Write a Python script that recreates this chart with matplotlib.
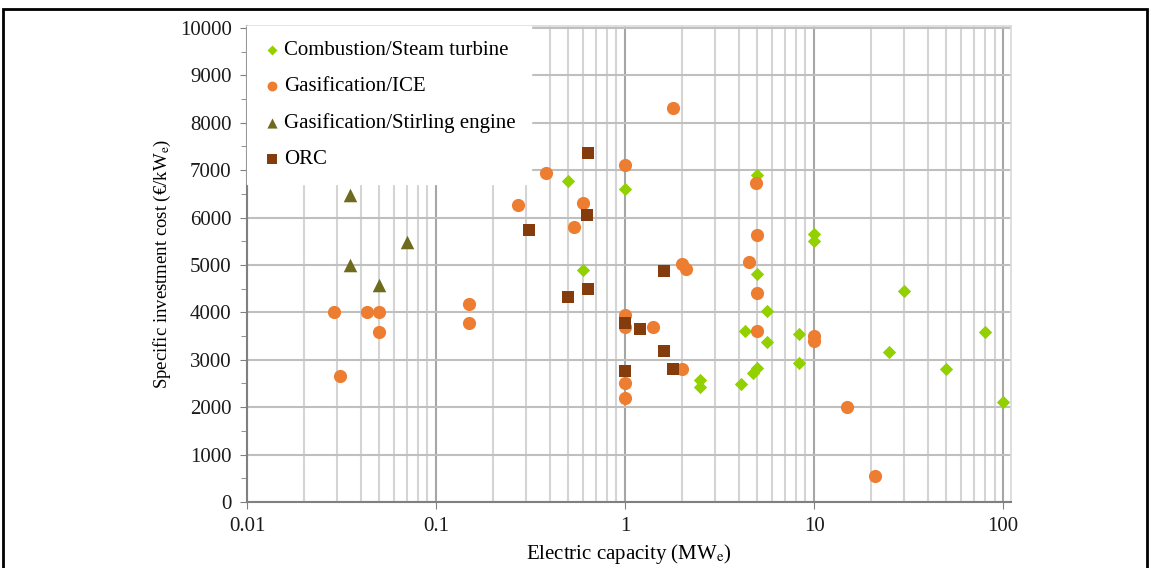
import matplotlib
matplotlib.use("Agg")
import matplotlib.pyplot as plt
from matplotlib.patches import Rectangle
from matplotlib.ticker import LogLocator, FixedLocator, MultipleLocator, FuncFormatter

plt.rcParams['font.family'] = ['Liberation Serif', 'DejaVu Serif']
plt.rcParams['mathtext.fontset'] = 'stix'

# Combustion/Steam turbine
comb_x = [0.5, 1, 0.6, 5, 10, 10, 5, 4.3, 5.6, 5.6, 5, 4.75, 4.1, 2.5, 2.5,
          8.3, 8.3, 30, 25, 50, 80, 100]
comb_y = [6770, 6600, 4900, 6900, 5650, 5500, 4800, 3600, 4030, 3380, 2830,
          2720, 2490, 2570, 2430, 3550, 2930, 4450, 3160, 2800, 3590, 2110]

# Gasification/ICE
ice_x = [0.029, 0.031, 0.043, 0.05, 0.05, 0.15, 0.15, 0.27, 0.38, 0.6, 0.54,
         1, 1, 1, 1, 1, 1.4, 2, 1.8, 2, 2.1, 4.9, 5, 4.5, 5, 5, 10, 10, 15, 21]
ice_y = [4000, 2660, 4000, 4000, 3590, 4180, 3780, 6270, 6940, 6300, 5790,
         7110, 3950, 3700, 2500, 2200, 3700, 2800, 8310, 5020, 4920, 6730,
         5630, 5060, 4410, 3610, 3500, 3400, 2000, 550]

# Gasification/Stirling engine
stir_x = [0.035, 0.035, 0.05, 0.07]
stir_y = [6470, 5000, 4570, 5480]

# ORC
orc_x = [0.31, 0.5, 0.64, 0.63, 0.64, 1, 1.2, 1.6, 1.6, 1.8, 1]
orc_y = [5740, 4320, 7370, 6060, 4490, 3770, 3650, 4880, 3190, 2800, 2760]

fig = plt.figure(figsize=(11.51, 5.68), dpi=100)
ax = fig.add_axes([247 / 1151, 66 / 568, 764 / 1151, 476 / 568])

ax.scatter(comb_x, comb_y, marker='D', s=46, color='#92d000', linewidths=0,
           label='Combustion/Steam turbine', zorder=3)
ax.scatter(ice_x, ice_y, marker='o', s=90, color='#ed7d31', linewidths=0,
           label='Gasification/ICE', zorder=3)
ax.scatter(stir_x, stir_y, marker='^', s=95, color='#6e6b1e', linewidths=0,
           label='Gasification/Stirling engine', zorder=3)
ax.scatter(orc_x, orc_y, marker='s', s=78, color='#843c0c', linewidths=0,
           label='ORC', zorder=3)

ax.set_xscale('log')
ax.set_xlim(0.01, 110)
ax.set_ylim(0, 10040)

ax.xaxis.set_major_locator(FixedLocator([0.01, 0.1, 1, 10, 100]))
ax.xaxis.set_minor_locator(LogLocator(base=10, subs=range(2, 10)))
ax.xaxis.set_major_formatter(FuncFormatter(lambda v, p: '%g' % v))
ax.yaxis.set_major_locator(MultipleLocator(1000))
ax.yaxis.set_minor_locator(MultipleLocator(500))

ax.grid(True, which='major', axis='y', color='#bfbfbf', linewidth=1.5, zorder=0)
ax.grid(True, which='major', axis='x', color='#a6a6a6', linewidth=1.5, zorder=0)
ax.grid(True, which='minor', axis='x', color='#d4d4d4', linewidth=1.5, zorder=0)
ax.set_axisbelow(True)

ax.tick_params(axis='both', which='major', direction='out', length=5,
               color='#808080', labelsize=15, labelcolor='#1a1a1a')
ax.tick_params(axis='y', which='major', pad=6)
ax.tick_params(axis='y', which='minor', direction='out', length=4,
               color='#808080')
ax.tick_params(axis='x', which='minor', length=0)
ax.tick_params(axis='x', which='major', pad=6)

for side in ['left', 'bottom']:
    ax.spines[side].set_color('#808080')
    ax.spines[side].set_linewidth(1.5)
for side in ['top', 'right']:
    ax.spines[side].set_color('#d9d9d9')
    ax.spines[side].set_linewidth(1.2)

ax.set_xlabel('Electric capacity (MW$_\\mathrm{e}$)', fontsize=15, labelpad=4)
ax.set_ylabel('Specific investment cost (€/kW$_\\mathrm{e}$)', fontsize=13.5,
              labelpad=5)

leg = ax.legend(loc='upper left', fontsize=15, frameon=True, fancybox=False,
                handletextpad=0.1, handlelength=1.0, labelspacing=0.8,
                borderaxespad=0.0, borderpad=0.7, markerscale=0.75)
leg.get_frame().set_edgecolor('white')
leg.get_frame().set_facecolor('white')
leg.get_frame().set_alpha(1)
leg.set_zorder(5)

# outer frame of the picture
fig.patches.append(Rectangle((3 / 1151, -0.05), 1144 / 1151, 1.05 - 9 / 568,
                             transform=fig.transFigure, fill=False,
                             edgecolor='black', linewidth=2))

fig.savefig('out.png', dpi=100)
